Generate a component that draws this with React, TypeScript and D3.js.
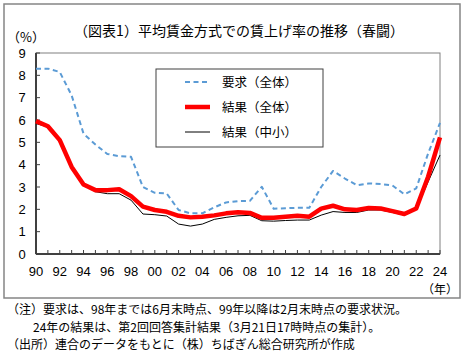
import React from "react";
import * as d3 from "d3";

const years = d3.range(1990, 2025);
const demandAll = [8.3, 8.3, 8.15, 7.1, 5.39, 4.9, 4.48, 4.38, 4.35, 3.0, 2.74, 2.71, 1.97, 1.82, 1.82, 2.09, 2.31, 2.37, 2.38, 3.01, 2.03, 2.05, 2.07, 2.07, 3.0, 3.72, 3.38, 3.08, 3.16, 3.13, 3.07, 2.67, 2.94, 4.5, 5.87];
const resultAll = [5.95, 5.72, 5.1, 3.9, 3.11, 2.86, 2.86, 2.9, 2.59, 2.12, 1.97, 1.89, 1.71, 1.64, 1.67, 1.73, 1.82, 1.87, 1.84, 1.62, 1.62, 1.67, 1.71, 1.67, 2.03, 2.16, 2.0, 1.97, 2.06, 2.04, 1.92, 1.79, 2.04, 3.46, 5.22];
const resultSME = [5.84, 5.69, 5.05, 3.86, 3.08, 2.79, 2.7, 2.7, 2.41, 1.79, 1.76, 1.7, 1.34, 1.25, 1.34, 1.55, 1.64, 1.71, 1.73, 1.49, 1.47, 1.5, 1.52, 1.52, 1.74, 1.9, 1.86, 1.86, 1.97, 1.97, 1.86, 1.74, 2.0, 3.23, 4.43];
const yTicks = d3.range(0, 10);
const xLabelYears = d3.range(1990, 2025, 2);
const legendLabels = ["要求（全体）", "結果（全体）", "結果（中小）"];
const title = "（図表1）平均賃金方式での賃上げ率の推移（春闘）";
const notes = [
  "（注）要求は、98年までは6月末時点、99年以降は2月末時点の要求状況。",
  "24年の結果は、第2回回答集計結果（3月21日17時時点の集計）。",
  "（出所）連合のデータをもとに（株）ちばぎん総合研究所が作成",
];

const W = 467, H = 355;
const left = 36, right = 440, top = 53, bottom = 254;
const cjk = "'Noto Sans CJK JP', sans-serif";
const num = "'Liberation Sans', Arial, sans-serif";

export default function App() {
  const x = d3.scaleLinear().domain([1990, 2024]).range([left, right]);
  const y = d3.scaleLinear().domain([0, 9]).range([bottom, top]);
  const line = (vals: number[]) =>
    d3.line<number>().x((_, i) => x(years[i])).y((d) => y(d))(vals) || "";

  const series = [
    { vals: demandAll, color: "#5b9bd5", width: 2, dash: "5,3.5" },
    { vals: resultAll, color: "#ff0000", width: 4.5, dash: undefined },
    { vals: resultSME, color: "#000000", width: 1, dash: undefined },
  ];
  const drawOrder = [2, 0, 1];
  const legendRows = [82, 107, 132];

  return (
    <svg width={W} height={H} style={{ position: "absolute", left: 0, top: 0, background: "#fff" }}>
      <rect x={4} y={4} width={456} height={294} fill="#fff" stroke="#858585" strokeWidth={1.5} />
      <text x={239} y={36} textAnchor="middle" fontFamily={cjk} fontSize={14} fill="#000">{title}</text>
      <text x={26} y={42} textAnchor="middle" fontFamily={cjk} fontSize={13} fill="#000">（%）</text>

      {/* plot frame */}
      <rect x={left} y={top} width={right - left} height={bottom - top} fill="#fff" stroke="#808080" strokeWidth={1} />
      {yTicks.map((t) => (
        <g key={t}>
          <line x1={left} x2={left + 4} y1={y(t)} y2={y(t)} stroke="#404040" strokeWidth={1} />
          <text x={22} y={y(t) + 4.5} textAnchor="middle" fontFamily={num} fontSize={13} fill="#000">{t}</text>
        </g>
      ))}
      {years.map((yr) => (
        <line key={yr} x1={x(yr)} x2={x(yr)} y1={bottom} y2={bottom - 4} stroke="#404040" strokeWidth={1} />
      ))}
      {xLabelYears.map((yr) => (
        <text key={yr} x={x(yr)} y={276} textAnchor="middle" fontFamily={num} fontSize={13} fill="#000">
          {String(yr % 100).padStart(2, "0")}
        </text>
      ))}
      <text x={440} y={293.5} textAnchor="middle" fontFamily={cjk} fontSize={12} fill="#000">（年）</text>
      <line x1={left} x2={left} y1={top} y2={bottom} stroke="#404040" strokeWidth={2} />
      <line x1={left} x2={right} y1={bottom} y2={bottom} stroke="#404040" strokeWidth={2} />

      {drawOrder.map((i) => (
        <path key={i} d={line(series[i].vals)} fill="none" stroke={series[i].color}
          strokeWidth={series[i].width} strokeDasharray={series[i].dash} strokeLinejoin="round" />
      ))}

      {/* legend */}
      <rect x={156} y={69} width={167} height={78} fill="#fff" stroke="#404040" strokeWidth={1} />
      {legendLabels.map((lab, i) => (
        <g key={lab}>
          <line x1={185} x2={210} y1={legendRows[i]} y2={legendRows[i]} stroke={series[i].color}
            strokeWidth={series[i].width} strokeDasharray={series[i].dash} />
          <text x={222} y={legendRows[i] + 4.5} fontFamily={cjk} fontSize={12.5} fill="#000">{lab}</text>
        </g>
      ))}

      {/* notes */}
      <text x={7} y={314} fontFamily={cjk} fontSize={12} fill="#000">{notes[0]}</text>
      <text x={33} y={332} fontFamily={cjk} fontSize={12} fill="#000">{notes[1]}</text>
      <text x={7} y={349} fontFamily={cjk} fontSize={12} fill="#000">{notes[2]}</text>
    </svg>
  );
}
